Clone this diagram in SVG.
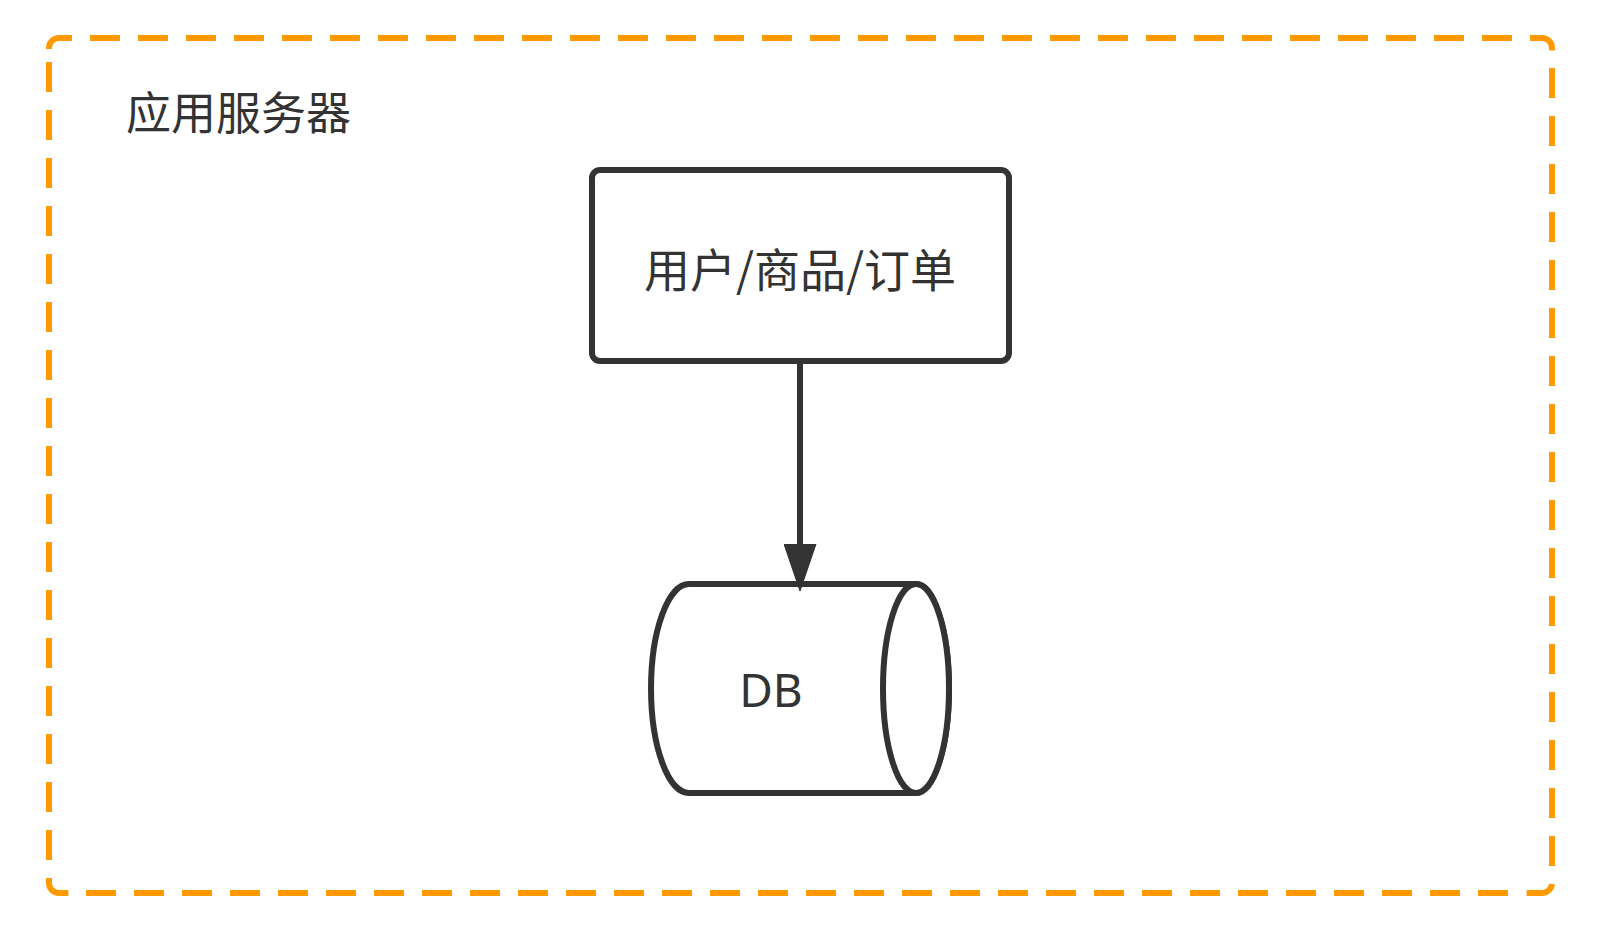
<svg xmlns="http://www.w3.org/2000/svg" width="1598" height="927" viewBox="0 0 1598 927">
  <style>
    .frame { fill: none; stroke: #ff9900; stroke-width: 6; }
    .dash { stroke-dasharray: 30 18; }
    .shape { fill: #ffffff; stroke: #333333; stroke-width: 6; stroke-linejoin: round; }
    .label { fill: #333333; font-family: "Noto Sans CJK SC", "Noto Sans", sans-serif; font-size: 46px; }
    .title { font-size: 45px; }
    .latin { fill: #333333; font-family: "Noto Sans", "Open Sans", sans-serif; font-size: 46px; }
    .edge { fill: none; stroke: #333333; stroke-width: 6; }
  </style>
  <defs>
    <marker id="arrow" markerUnits="userSpaceOnUse" markerWidth="48" markerHeight="33" viewBox="0 0 48 33" refX="0" refY="16.5" orient="auto">
      <path d="M0,0.5 L47,16.5 L0,32.5 Z" fill="#333333" stroke="#333333" stroke-width="1" stroke-linejoin="round"/>
    </marker>
  </defs>
  <rect width="1598" height="927" fill="#ffffff"/>

  <g id="container">
    <path class="frame" d="M49 49 V48 A10 10 0 0 1 59 38 H72"/>
    <path class="frame dash" d="M90 38 H1542 A10 10 0 0 1 1552 48 V51"/>
    <path class="frame dash" d="M1552 68 V883 A10 10 0 0 1 1542 893 H1520"/>
    <path class="frame dash" d="M49 62 V883 A10 10 0 0 0 59 893 H70"/>
    <path class="frame dash" d="M86 893 H1510"/>
    <text class="label title" x="126" y="130">应用服务器</text>
  </g>

  <g id="service">
    <rect class="shape" x="592" y="170" width="417" height="191" rx="8" ry="8"/>
    <text class="label" x="800" y="287" text-anchor="middle">用户/商品/订单</text>
  </g>

  <g id="db">
    <path class="shape" d="M689 584 H916 A33 104.5 0 0 1 916 793 H689 A38 104.5 0 0 1 689 584 Z"/>
    <ellipse class="shape" cx="916" cy="688.5" rx="33" ry="104.5"/>
    <text class="latin" x="771" y="707" text-anchor="middle">DB</text>
  </g>

  <g id="connectors">
    <line class="edge" x1="800" y1="364" x2="800" y2="544" marker-end="url(#arrow)"/>
  </g>
</svg>
